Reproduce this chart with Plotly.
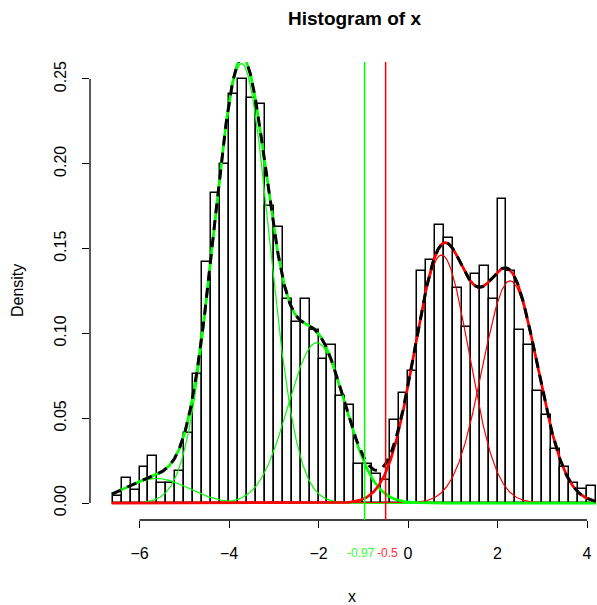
import numpy as np
import plotly.graph_objects as go

# ---- data ----
bin_start = -6.6
bin_width = 0.2
density = [0.004, 0.015, 0.0077, 0.021, 0.028, 0.0116, 0.0116, 0.019, 0.041, 0.076,
           0.142, 0.183, 0.200, 0.241, 0.250, 0.239, 0.235, 0.175, 0.163, 0.120,
           0.107, 0.120, 0.102, 0.085, 0.093, 0.063, 0.058, 0.023, 0.023, 0.017,
           0.0136, 0.049, 0.065, 0.078, 0.137, 0.143, 0.164, 0.156, 0.127, 0.104,
           0.135, 0.140, 0.120, 0.179, 0.137, 0.102, 0.093, 0.066, 0.052, 0.032,
           0.021, 0.012, 0.008, 0.010]

green_means = [-5.62, -3.72, -2.04]
green_sds = [0.70, 0.62, 0.64]
green_weights = [0.0254, 0.4025, 0.1516]

red_means = [0.75, 2.28]
red_sds = [0.61, 0.62]
red_weights = [0.2236, 0.2036]

cut_green = -0.97
cut_red = -0.5
cut_labels = ["-0.97", "-0.5"]

x_ticks = [-6, -4, -2, 0, 2, 4]
y_ticks = [0.00, 0.05, 0.10, 0.15, 0.20, 0.25]
y_ticktext = ["0.00", "0.05", "0.10", "0.15", "0.20", "0.25"]

curve_from, curve_to = -6.62, 4.2

# ---- build ----
n = len(density)
centers = [bin_start + bin_width * (i + 0.5) for i in range(n)]

xs = np.linspace(curve_from, curve_to, 600)


def comp(m, s, w):
    return w * np.exp(-0.5 * ((xs - m) / s) ** 2) / (s * np.sqrt(2 * np.pi))


green_comps = [comp(m, s, w) for m, s, w in zip(green_means, green_sds, green_weights)]
red_comps = [comp(m, s, w) for m, s, w in zip(red_means, red_sds, red_weights)]
green_total = sum(green_comps)
red_total = sum(red_comps)
all_total = green_total + red_total

GREEN = "#00FF00"
RED = "#FF0000"
FONT = "Liberation Sans, Arial, sans-serif"

fig = go.Figure()
fig.add_trace(go.Bar(x=centers, y=density, width=bin_width,
                     marker=dict(color="rgba(0,0,0,0)", line=dict(color="black", width=1.5)),
                     hoverinfo="skip"))
for c in green_comps:
    fig.add_trace(go.Scatter(x=xs, y=c, mode="lines", line=dict(color=GREEN, width=1.2)))
for c in red_comps:
    fig.add_trace(go.Scatter(x=xs, y=c, mode="lines", line=dict(color=RED, width=1.2)))
fig.add_trace(go.Scatter(x=xs, y=green_total, mode="lines", line=dict(color=GREEN, width=2.7)))
fig.add_trace(go.Scatter(x=xs, y=red_total, mode="lines", line=dict(color=RED, width=2.7)))
fig.add_trace(go.Scatter(x=xs, y=all_total, mode="lines",
                         line=dict(color="black", width=3, dash="10px,7px")))

shapes = [
    dict(type="line", xref="x", yref="paper", x0=x_ticks[0], x1=x_ticks[-1], y0=0, y1=0,
         line=dict(color="black", width=1.3)),
    dict(type="line", xref="paper", yref="y", x0=0, x1=0, y0=y_ticks[0], y1=y_ticks[-1],
         line=dict(color="black", width=1.3)),
    dict(type="line", xref="x", yref="paper", x0=cut_green, x1=cut_green, y0=0, y1=1,
         line=dict(color=GREEN, width=1.5)),
    dict(type="line", xref="x", yref="paper", x0=cut_red, x1=cut_red, y0=0, y1=1,
         line=dict(color=RED, width=1.5)),
]

annotations = [
    dict(text="<b>Histogram of x</b>", xref="paper", yref="paper", x=0.521, y=1.096,
         showarrow=False, font=dict(family=FONT, size=19, color="black"),
         xanchor="center", yanchor="middle"),
    dict(text="x", xref="paper", yref="paper", x=0.517, y=-0.166,
         showarrow=False, font=dict(family=FONT, size=16, color="black"),
         xanchor="center", yanchor="middle"),
    dict(text="Density", xref="paper", yref="paper", x=-0.144, y=0.502, textangle=-90,
         showarrow=False, font=dict(family=FONT, size=16, color="black"),
         xanchor="center", yanchor="middle"),
    dict(text=cut_labels[0], xref="x", yref="paper", x=cut_green, y=-0.072, xshift=-3.5,
         showarrow=False, font=dict(family=FONT, size=12, color="#33FF33"),
         xanchor="center", yanchor="middle"),
    dict(text=cut_labels[1], xref="x", yref="paper", x=cut_red, y=-0.072, xshift=1.5,
         showarrow=False, font=dict(family=FONT, size=12, color="#FF3333"),
         xanchor="center", yanchor="middle"),
]

fig.update_layout(
    width=597, height=605,
    margin=dict(l=90, r=0, t=62, b=85),
    paper_bgcolor="white", plot_bgcolor="white",
    showlegend=False, bargap=0,
    shapes=shapes, annotations=annotations,
    xaxis=dict(range=[-7.106, 4.223], showgrid=False, zeroline=False, showline=False,
               tickmode="array", tickvals=x_ticks, ticks="outside", ticklen=7,
               tickwidth=1.3, tickcolor="black",
               tickfont=dict(family=FONT, size=16, color="black"),
               ticklabelstandoff=12),
    yaxis=dict(range=[-0.01, 0.26], showgrid=False, zeroline=False, showline=False,
               tickmode="array", tickvals=y_ticks, ticktext=y_ticktext, ticks="outside",
               ticklen=7, tickwidth=1.3, tickcolor="black", tickangle=-90,
               tickfont=dict(family=FONT, size=16, color="black"),
               ticklabelstandoff=10),
)

# remove the page's default body margin so the figure fills the window exactly
fig.write_html("out.html",
               config={"displayModeBar": False},
               post_script="document.body.style.margin='0';document.body.style.overflow='hidden';")
